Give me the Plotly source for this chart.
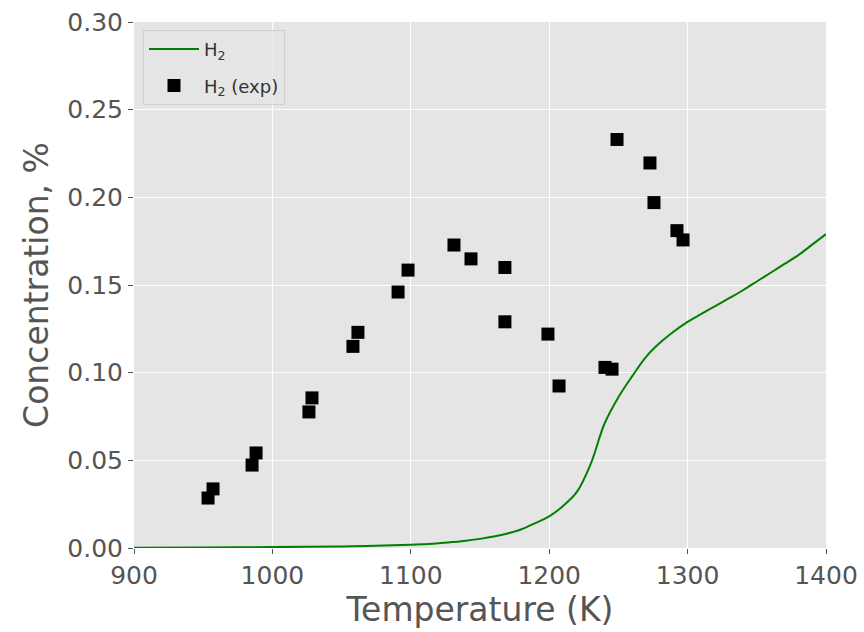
import plotly.graph_objects as go

# Model curve
T_model = [900, 950, 1000, 1050, 1100, 1110, 1120, 1130, 1140, 1150, 1160, 1170, 1180,
           1190, 1200, 1210, 1220, 1230, 1240, 1250, 1260, 1270, 1280, 1290, 1300, 1310,
           1320, 1330, 1340, 1350, 1360, 1370, 1380, 1390, 1400]
H2_model = [0.0002, 0.0003, 0.0005, 0.0009, 0.0018, 0.0022, 0.0027, 0.0034, 0.0042, 0.0052,
            0.0065, 0.0083, 0.0107, 0.0142, 0.018, 0.024, 0.032, 0.048, 0.071, 0.086, 0.098,
            0.109, 0.117, 0.1235, 0.129, 0.1335, 0.138, 0.1425, 0.147, 0.152, 0.157, 0.162,
            0.167, 0.173, 0.179]

# Experimental points
T_exp = [953.5, 957.1, 985.3, 988.2, 1026.4, 1028.6, 1058.2, 1061.8, 1090.8, 1098.0,
         1131.2, 1143.5, 1168.0, 1168.0, 1199.1, 1207.1, 1240.3, 1245.4, 1249.0, 1272.8,
         1275.7, 1292.3, 1296.7]
H2_exp = [0.0285, 0.0337, 0.0473, 0.0542, 0.0776, 0.0856, 0.115, 0.123, 0.146, 0.1585,
          0.1728, 0.1649, 0.160, 0.129, 0.122, 0.0924, 0.103, 0.102, 0.233, 0.2196,
          0.197, 0.181, 0.1757]

x_ticks = [900, 1000, 1100, 1200, 1300, 1400]
y_ticks = [0, 0.05, 0.10, 0.15, 0.20, 0.25, 0.30]

fig = go.Figure()
fig.add_trace(go.Scatter(x=T_model, y=H2_model, mode="lines", name="H<sub>2</sub>",
                         legendgroup="a",
                         line=dict(color="#008000", width=2, shape="spline", smoothing=1.0)))
fig.add_trace(go.Scatter(x=T_exp, y=H2_exp, mode="markers", name="H<sub>2</sub> (exp)",
                         legendgroup="b",
                         marker=dict(symbol="square", size=13, color="black",
                                     line=dict(width=0))))

axis_common = dict(showgrid=True, gridcolor="white", gridwidth=1.2, zeroline=False,
                   showline=False, ticks="outside", ticklen=5, tickcolor="#555555",
                   automargin=False,
                   tickfont=dict(family="DejaVu Sans", size=25, color="#555555"),
                   title_font=dict(family="DejaVu Sans", size=33, color="#555555"))

fig.update_xaxes(range=[900, 1400], tickvals=x_ticks,
                 title_text="Temperature (K)", title_standoff=4, **axis_common)
fig.update_yaxes(range=[0, 0.30], tickvals=y_ticks,
                 tickformat=".2f", title_text="Concentration, %", title_standoff=8,
                 **axis_common)

fig.update_layout(
    width=864, height=632,
    margin=dict(l=134, r=38, t=22, b=84),
    plot_bgcolor="#E5E5E5", paper_bgcolor="white",
    font=dict(family="DejaVu Sans", color="#333333"),
    legend=dict(x=0.013, y=0.985, xanchor="left", yanchor="top",
                bgcolor="rgba(229,229,229,0.8)", bordercolor="#d0d0d0", borderwidth=1,
                font=dict(family="DejaVu Sans", size=18, color="#333333"),
                itemwidth=50, traceorder="grouped", tracegroupgap=10),
    showlegend=True,
)

fig.write_html("out.html")
